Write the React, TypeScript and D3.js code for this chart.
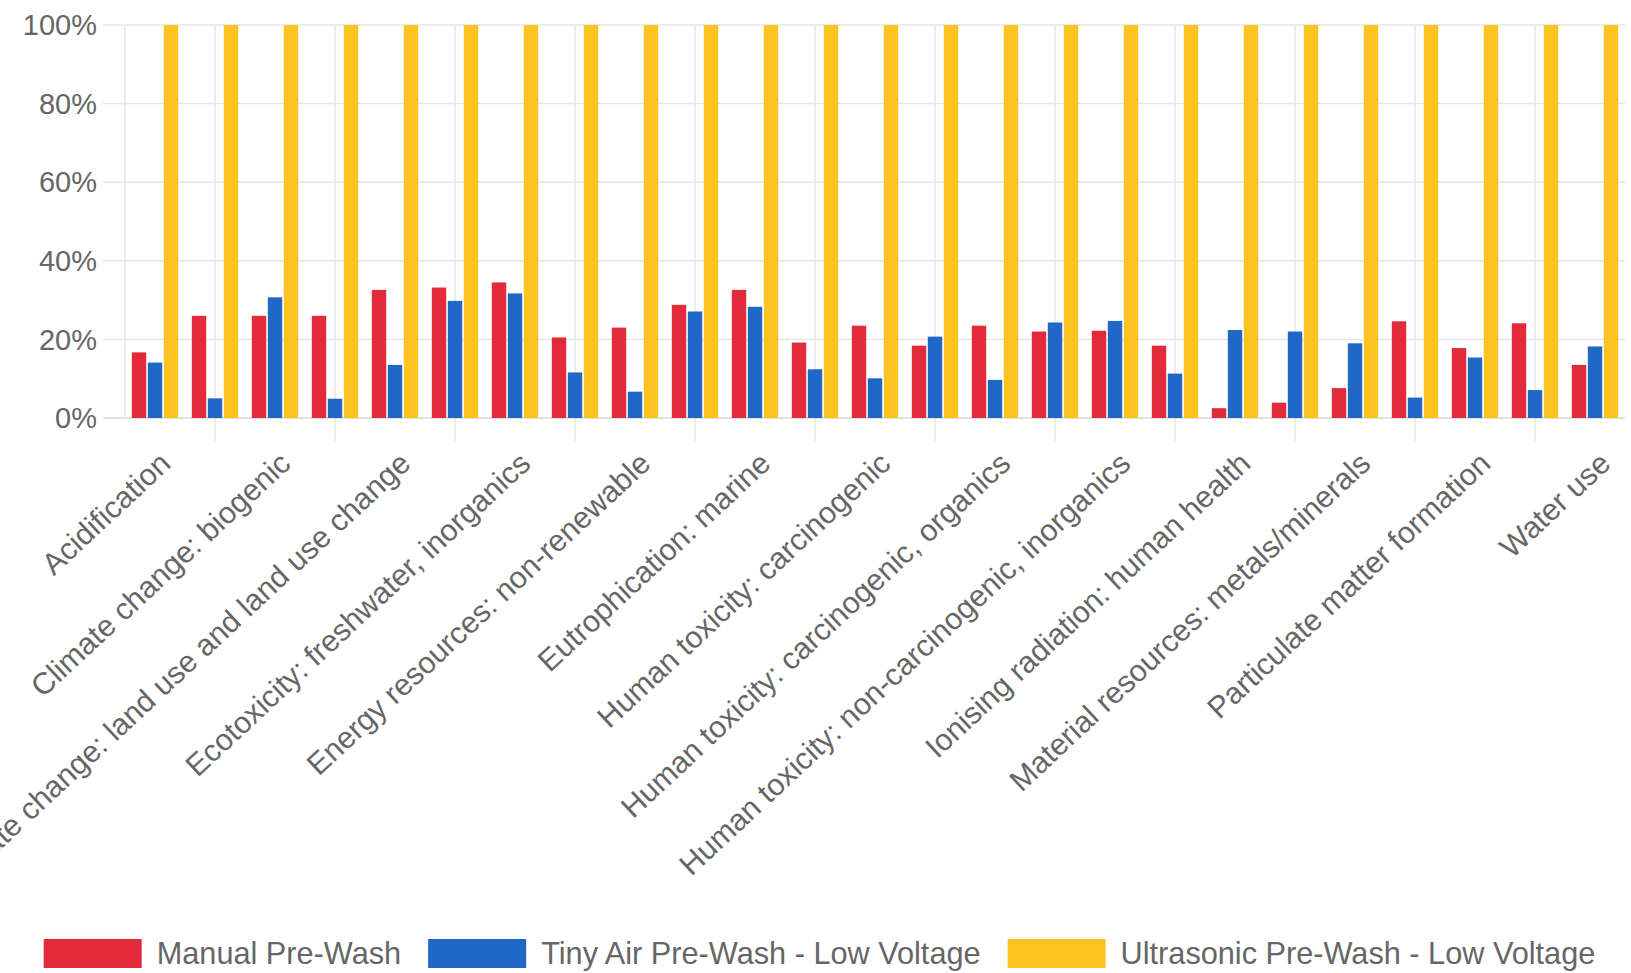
import React, { useEffect, useRef } from "react";
import * as d3 from "d3";

const categories = [
  "Acidification",
  "Climate change",
  "Climate change: biogenic",
  "Climate change: fossil",
  "Climate change: land use and land use change",
  "Ecotoxicity: freshwater",
  "Ecotoxicity: freshwater, inorganics",
  "Ecotoxicity: freshwater, organics",
  "Energy resources: non-renewable",
  "Eutrophication: freshwater",
  "Eutrophication: marine",
  "Eutrophication: terrestrial",
  "Human toxicity: carcinogenic",
  "Human toxicity: carcinogenic, inorganics",
  "Human toxicity: carcinogenic, organics",
  "Human toxicity: non-carcinogenic",
  "Human toxicity: non-carcinogenic, inorganics",
  "Human toxicity: non-carcinogenic, organics",
  "Ionising radiation: human health",
  "Land use",
  "Material resources: metals/minerals",
  "Ozone depletion",
  "Particulate matter formation",
  "Photochemical ozone formation: human health",
  "Water use",
];

const seriesNames = [
  "Manual Pre-Wash",
  "Tiny Air Pre-Wash - Low Voltage",
  "Ultrasonic Pre-Wash - Low Voltage",
];

const manualPreWash = [
  16.7, 26.0, 26.0, 26.0, 32.6, 33.2, 34.5, 20.5, 23.0, 28.8, 32.6, 19.2, 23.5,
  18.4, 23.5, 22.0, 22.2, 18.4, 2.5, 3.9, 7.6, 24.6, 17.8, 24.1, 13.5,
];
const tinyAirPreWash = [
  14.1, 5.0, 30.7, 4.9, 13.5, 29.8, 31.7, 11.6, 6.7, 27.1, 28.3, 12.4, 10.1,
  20.7, 9.7, 24.3, 24.7, 11.3, 22.4, 22.0, 19.0, 5.2, 15.4, 7.1, 18.2,
];
const ultrasonicPreWash = [
  100, 100, 100, 100, 100, 100, 100, 100, 100, 100, 100, 100, 100, 100, 100,
  100, 100, 100, 100, 100, 100, 100, 100, 100, 100,
];

const yTicks = [0, 20, 40, 60, 80, 100];
const seriesColors = ["#E12A3A", "#2167C5", "#FDC421"];

const W = 1631;
const H = 973;
const FONT = "'Liberation Sans', Arial, Helvetica, sans-serif";

export default function App() {
  const ref = useRef<SVGSVGElement | null>(null);

  useEffect(() => {
    const svg = d3.select(ref.current);
    svg.selectAll("*").remove();

    const left = 125;
    const right = 1625;
    const top = 25;
    const bottom = 418;

    const x = d3.scaleBand<string>().domain(categories).range([left, right]);
    const bw = x.bandwidth();
    const inner = d3
      .scaleBand<string>()
      .domain(seriesNames)
      .range([0.1 * bw, 0.9 * bw])
      .paddingInner(0.1)
      .paddingOuter(0.05);
    const y = d3.scaleLinear().domain([0, 100]).range([bottom, top]);

    const gridColor = "#e6e6e6";

    // horizontal gridlines
    const g = svg.append("g");
    g.selectAll("line.h")
      .data(yTicks)
      .join("line")
      .attr("x1", left - 22)
      .attr("x2", right)
      .attr("y1", (d) => y(d))
      .attr("y2", (d) => y(d))
      .attr("stroke", (d) => (d === 0 ? "#d9d9d9" : gridColor))
      .attr("stroke-width", 1.5);

    // vertical gridlines at odd category centres
    const vIdx = categories.map((_, i) => i).filter((i) => i % 2 === 1);
    g.selectAll("line.v")
      .data(vIdx)
      .join("line")
      .attr("x1", (i) => (x(categories[i]) as number) + bw / 2)
      .attr("x2", (i) => (x(categories[i]) as number) + bw / 2)
      .attr("y1", top)
      .attr("y2", bottom + 23)
      .attr("stroke", gridColor)
      .attr("stroke-width", 1.5);

    // left axis line
    g.append("line")
      .attr("x1", left)
      .attr("x2", left)
      .attr("y1", top)
      .attr("y2", bottom)
      .attr("stroke", gridColor)
      .attr("stroke-width", 1.5);

    // y tick labels
    svg
      .append("g")
      .selectAll("text")
      .data(yTicks)
      .join("text")
      .attr("x", 97)
      .attr("y", (d) => y(d))
      .attr("dy", "0.35em")
      .attr("text-anchor", "end")
      .attr("font-family", FONT)
      .attr("font-size", 29)
      .attr("fill", "#666")
      .text((d) => `${d}%`);

    // bars
    const allSeries = [manualPreWash, tinyAirPreWash, ultrasonicPreWash];
    allSeries.forEach((vals, si) => {
      svg
        .append("g")
        .selectAll("rect")
        .data(vals)
        .join("rect")
        .attr(
          "x",
          (_, i) => (x(categories[i]) as number) + (inner(seriesNames[si]) as number)
        )
        .attr("y", (d) => y(d))
        .attr("width", inner.bandwidth())
        .attr("height", (d) => bottom - y(d))
        .attr("fill", seriesColors[si]);
    });

    // x labels (every other category)
    const lIdx = categories.map((_, i) => i).filter((i) => i % 2 === 0);
    svg
      .append("g")
      .selectAll("text")
      .data(lIdx)
      .join("text")
      .attr(
        "transform",
        (i) =>
          `translate(${(x(categories[i]) as number) + bw / 2 + 10},${bottom + 40}) rotate(-43)`
      )
      .attr("dy", "0.35em")
      .attr("text-anchor", "end")
      .attr("font-family", FONT)
      .attr("font-size", 30.4)
      .attr("fill", "#666")
      .text((i) => categories[i]);

    // legend
    const boxW = 98;
    const boxH = 29;
    const textGap = 15;
    const itemGap = 27;
    const lg = svg.append("g");
    const items = seriesNames.map((name, i) => {
      const t = lg
        .append("text")
        .attr("font-family", FONT)
        .attr("font-size", 30.7)
        .attr("fill", "#666")
        .attr("dy", "0.35em")
        .text(name);
      const tw = (t.node() as SVGTextElement).getComputedTextLength();
      return { name, i, t, tw };
    });
    const total =
      items.reduce((s, it) => s + boxW + textGap + it.tw, 0) +
      itemGap * (items.length - 1);
    let cx = W / 2 - total / 2 + 4;
    const ly = 939;
    items.forEach((it) => {
      lg.append("rect")
        .attr("x", cx)
        .attr("y", ly)
        .attr("width", boxW)
        .attr("height", boxH)
        .attr("fill", seriesColors[it.i]);
      it.t.attr("x", cx + boxW + textGap).attr("y", ly + boxH / 2);
      cx += boxW + textGap + it.tw + itemGap;
    });
  }, []);

  return (
    <svg
      ref={ref}
      width={W}
      height={H}
      style={{ position: "absolute", left: 0, top: 0, background: "#fff" }}
    />
  );
}
